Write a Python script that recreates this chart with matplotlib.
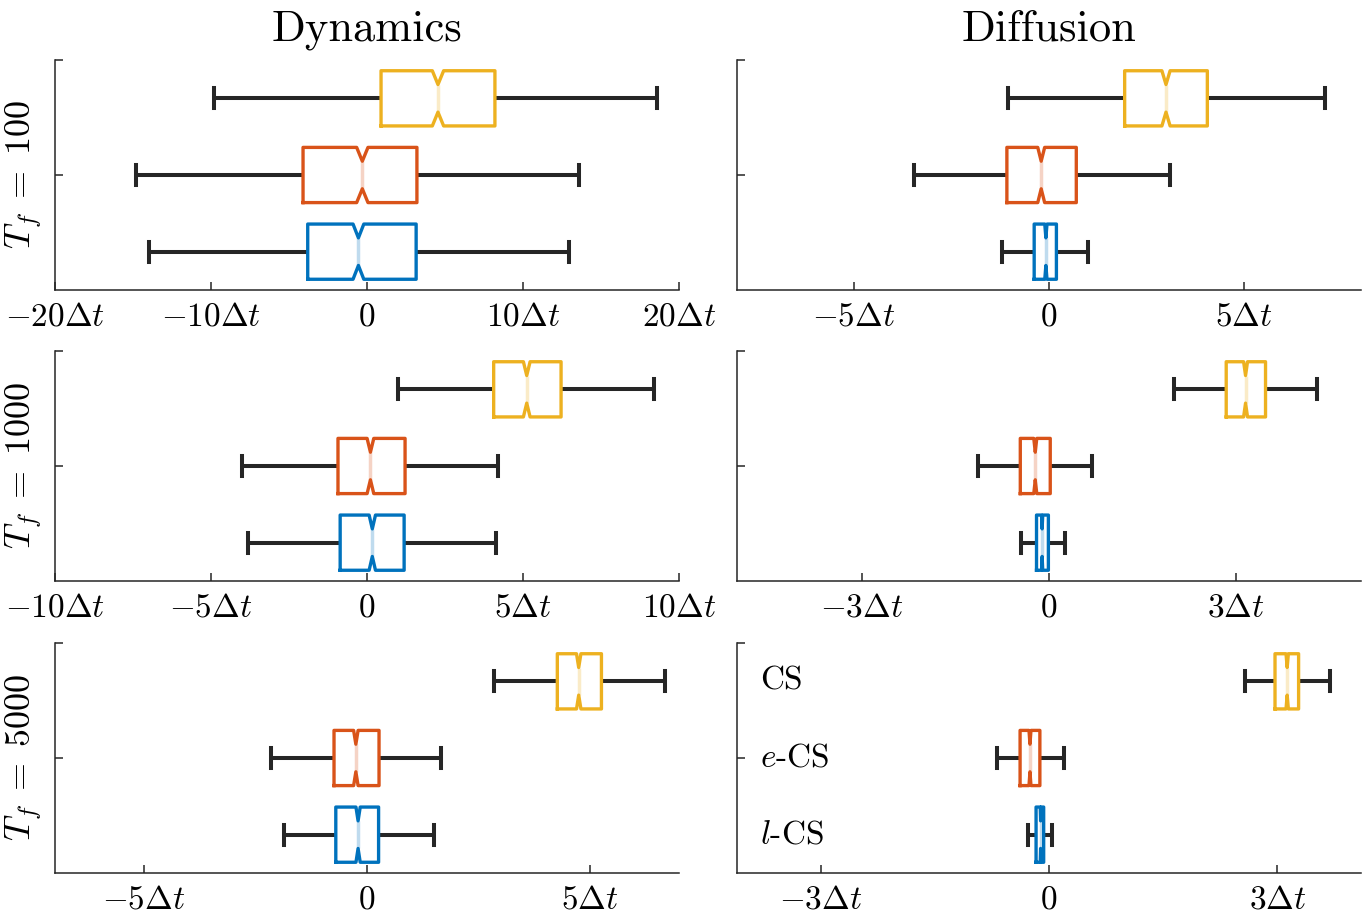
import matplotlib
matplotlib.use('Agg')
import matplotlib.pyplot as plt
import numpy as np

plt.rcParams['font.family'] = 'serif'
plt.rcParams['font.serif'] = ['cmr10']
plt.rcParams['mathtext.fontset'] = 'cm'
plt.rcParams['axes.unicode_minus'] = False

# methods, bottom to top
methods = ['$l$-CS', '$e$-CS', 'CS']
colors = ['#0072BD', '#D95319', '#EDB120']
row_labels = ['$T_f\\;=\\;100$', '$T_f\\;=\\;1000$', '$T_f\\;=\\;5000$']
col_titles = ['Dynamics', 'Diffusion']
n_samples = 1000

# panels: dyn100, dif100, dyn1000, dif1000, dyn5000, dif5000 ; values in units of dt
whislo = [[-14.0, -14.8, -9.8], [-1.2, -3.46, -1.04],
          [-3.82, -4.0, 1.0], [-0.45, -1.13, 2.0],
          [-1.86, -2.16, 2.85], [-0.27, -0.68, 2.58]]
q1 = [[-3.8, -4.1, 0.9], [-0.38, -1.08, 1.94],
      [-0.86, -0.93, 4.06], [-0.20, -0.46, 2.84],
      [-0.70, -0.74, 4.27], [-0.17, -0.38, 2.97]]
med = [[-0.55, -0.3, 4.55], [-0.08, -0.2, 3.0],
       [0.17, 0.11, 5.12], [-0.11, -0.22, 3.15],
       [-0.2, -0.25, 4.75], [-0.11, -0.25, 3.13]]
q3 = [[3.15, 3.2, 8.2], [0.19, 0.70, 4.06],
      [1.19, 1.22, 6.22], [-0.01, 0.02, 3.47],
      [0.26, 0.27, 5.26], [-0.07, -0.12, 3.28]]
whishi = [[12.95, 13.6, 18.6], [1.0, 3.1, 7.07],
          [4.15, 4.19, 9.2], [0.25, 0.69, 4.29],
          [1.5, 1.67, 6.68], [0.04, 0.20, 3.69]]

xlims = [20, 8, 10, 5, 7, 4.1]
xticks = [[-20, -10, 0, 10, 20], [-5, 0, 5],
          [-10, -5, 0, 5, 10], [-3, 0, 3],
          [-5, 0, 5], [-3, 0, 3]]

dark = '#262626'
box_w = 0.72
pos = [1, 2, 3]


def tick_label(v):
    if v == 0:
        return '$0$'
    return '$%d\\Delta t$' % v


fig = plt.figure(figsize=(13.69, 9.17), dpi=100)
lefts = [55 / 1369, 737 / 1369]
bottoms = [1 - 290 / 917, 1 - 581 / 917, 1 - 873 / 917]
w = 624 / 1369
h = 230 / 917

for k in range(6):
    r, c = k // 2, k % 2
    ax = fig.add_axes([lefts[c], bottoms[r], w, h])
    stats = []
    for i in range(3):
        iqr = q3[k][i] - q1[k][i]
        ci = 1.57 * iqr / np.sqrt(n_samples)
        stats.append(dict(whislo=whislo[k][i], q1=q1[k][i], med=med[k][i],
                          q3=q3[k][i], whishi=whishi[k][i],
                          cilo=med[k][i] - ci, cihi=med[k][i] + ci, fliers=[]))
    # whiskers and caps
    ax.bxp(stats, positions=pos, widths=box_w, orientation='horizontal',
           showbox=False, showfliers=False, manage_ticks=False,
           capwidths=0.36 * box_w,
           whiskerprops=dict(color=dark, linewidth=2.9, solid_capstyle='butt'),
           capprops=dict(color=dark, linewidth=2.9),
           medianprops=dict(visible=False))
    # notched boxes
    res = ax.bxp(stats, positions=pos, widths=box_w, orientation='horizontal',
                 shownotches=True, showcaps=False, showfliers=False,
                 manage_ticks=False, capwidths=0.92 * box_w,
                 whiskerprops=dict(visible=False),
                 boxprops=dict(linewidth=2.4))
    for i in range(3):
        res['boxes'][i].set_color(colors[i])
        res['boxes'][i].set_zorder(3)
        res['medians'][i].set_color(colors[i])
        res['medians'][i].set_alpha(0.25)
        res['medians'][i].set_linewidth(2.5)

    ax.set_xlim(-xlims[k], xlims[k])
    ax.set_ylim(0.5, 3.5)
    ax.set_xticks(xticks[k])
    ax.set_xticklabels([tick_label(v) for v in xticks[k]])
    ax.set_yticks([2, 3.5])
    ax.set_yticklabels([])
    for s in ['top', 'right']:
        ax.spines[s].set_visible(False)
    for s in ['left', 'bottom']:
        ax.spines[s].set_color(dark)
        ax.spines[s].set_linewidth(1.1)
    ax.tick_params(direction='in', length=6, width=1.1, color=dark,
                   labelsize=24, labelcolor='black', pad=9)
    if c == 0:
        ax.set_ylabel(row_labels[r], fontsize=26)
        ax.yaxis.set_label_coords(-0.018, 0.5)
    if r == 0:
        ax.set_title(col_titles[c], fontsize=32, pad=14)
    if k == 5:
        for i in range(3):
            ax.text(0.037, pos[i], methods[i], fontsize=24, va='center',
                    ha='left', transform=ax.get_yaxis_transform())

fig.savefig('out.png', dpi=100)
